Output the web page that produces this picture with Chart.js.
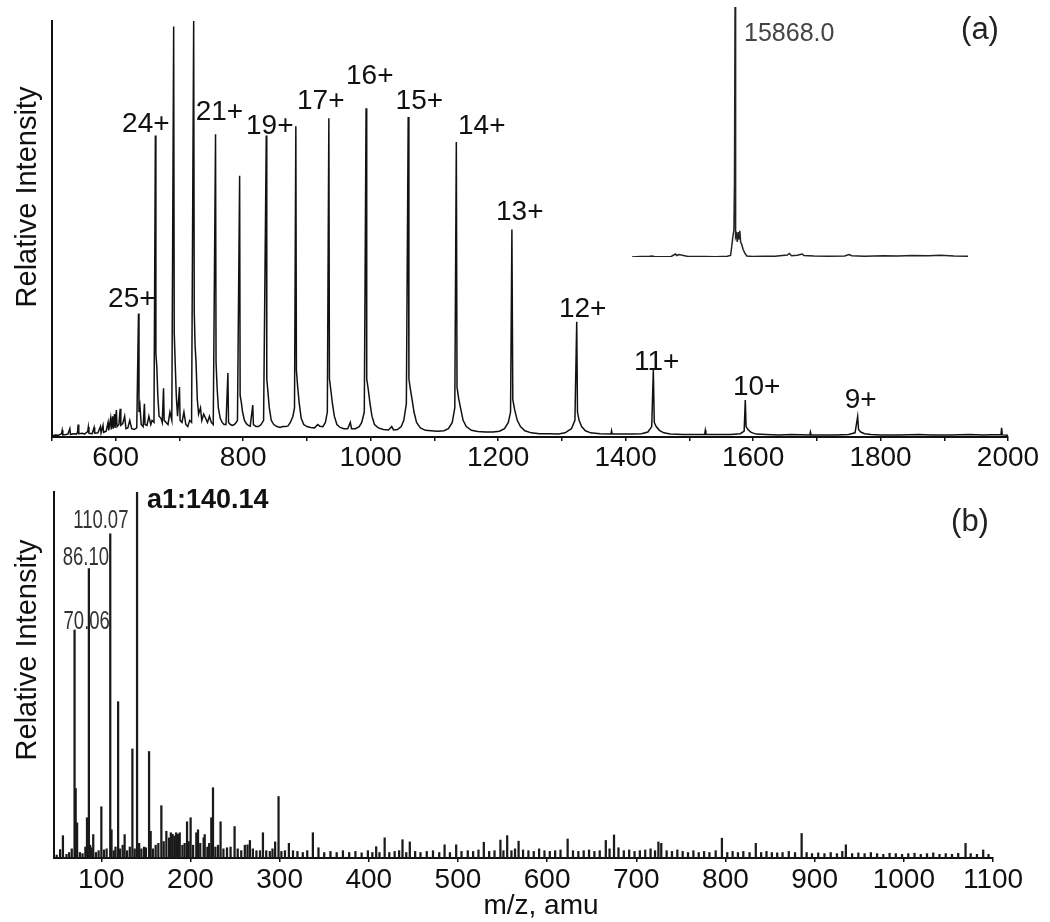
<!DOCTYPE html>
<html>
<head>
<meta charset="utf-8">
<script src="https://cdn.jsdelivr.net/npm/chart.js@4.4.1/dist/chart.umd.min.js"></script>
<style>
  body { margin: 0; background: #fff; }
  #wrap { position: relative; width: 1050px; height: 922px; }
  canvas { position: absolute; }
</style>
</head>
<body>
<div id="wrap">
  <canvas id="msChart" width="1050" height="480" style="left:0;top:0;width:1050px;height:480px"></canvas>
  <canvas id="msmsChart" width="1050" height="452" style="left:0;top:470px;width:1050px;height:452px"></canvas>
  <canvas id="insetChart" width="400" height="280" style="left:600px;top:0;width:400px;height:280px"></canvas>
</div>
<script>
// (a) ESI charge-state envelope, m/z vs relative intensity (profile trace)
const mzA = [
  500, 505, 510, 515, 516, 517, 522, 525, 528, 529,
  533, 538, 540, 541, 542, 548, 551, 556, 557, 558,
  563, 566, 567, 572, 576, 577, 580, 581, 585, 588,
  589, 592, 593, 595, 596, 598, 599, 601, 602, 605,
  607, 608, 611, 614, 616, 619, 622, 625, 629, 633,
  635.7, 636.5, 638, 640, 643, 645, 646, 649, 652, 655,
  657, 660, 662.2, 663, 664.5, 666, 668, 671, 673, 675,
  676, 679, 682, 685, 688, 690.9, 691.8, 693.5, 695, 697,
  700, 701, 704, 707, 710, 713, 716, 719, 722.3, 723.2,
  724.5, 726, 728, 730, 733, 735, 738, 741, 744, 747,
  750, 753, 756.6, 757.4, 759, 761, 764, 767, 770, 773,
  776, 777, 780, 783, 786, 789, 791, 794.4, 795.2, 797,
  799, 802, 805, 808, 811, 815, 816, 820, 824, 828,
  832, 836.2, 837, 839, 841, 844, 848, 853, 858, 862,
  866, 870, 874, 878, 880.5, 882.6, 883.5, 885.5, 888, 891,
  895, 900, 906, 912, 917, 920, 925, 929, 932, 934.4,
  935.3, 937.5, 940, 943, 947, 952, 958, 964, 968, 970,
  976, 982, 986, 990, 992.8, 993.8, 996, 999, 1002, 1006,
  1012, 1020, 1028, 1033, 1036, 1042, 1048, 1052, 1056, 1058.9,
  1060, 1062.5, 1065, 1068, 1072, 1078, 1086, 1095, 1105, 1115,
  1122, 1128, 1132, 1134.4, 1135.5, 1138, 1141, 1145, 1150, 1158,
  1168, 1180, 1192, 1202, 1210, 1216, 1219.5, 1221.6, 1223, 1226,
  1230, 1235, 1242, 1252, 1265, 1280, 1295, 1305, 1315, 1320.5,
  1323.3, 1324.5, 1327, 1331, 1337, 1345, 1360, 1377, 1378, 1379,
  1395, 1410, 1425, 1435, 1441, 1443.5, 1445, 1448, 1453, 1460,
  1470, 1490, 1510, 1524, 1525, 1526, 1545, 1565, 1580, 1586,
  1587.8, 1589, 1592, 1597, 1605, 1620, 1640, 1660, 1689, 1690,
  1691, 1710, 1730, 1750, 1760, 1764.1, 1765.5, 1769, 1775, 1785,
  1800, 1830, 1860, 1880, 1910, 1940, 1960, 1989, 1990, 1991,
  2000
];
const intA = [
  0.3, 0.5, 0.4, 0.8, 1.6, 0.5, 0.6, 0.7, 2.0, 0.6,
  0.8, 0.7, 1.0, 3.0, 0.8, 0.9, 0.7, 1.3, 2.4, 0.9,
  0.8, 2.3, 0.9, 1.0, 2.5, 1.0, 2.8, 1.1, 1.4, 3.5,
  1.6, 4.5, 1.8, 5.0, 2.0, 5.5, 2.2, 6.5, 2.5, 3.0,
  6.8, 2.8, 3.2, 5.0, 2.0, 2.2, 4.0, 2.0, 1.8, 2.2,
  29.7, 6.0, 7.5, 3.0, 2.5, 8.0, 3.0, 2.8, 5.0, 3.0,
  4.0, 3.5, 72.5, 20, 16.8, 10, 5, 4.5, 3.5, 11.7,
  4.0, 3.5, 3.0, 6.0, 4.0, 98.7, 25, 16.8, 10, 5,
  12, 4, 3.5, 6.0, 3.0, 2.5, 4.0, 3.5, 100, 30,
  22, 18, 9, 5.5, 7, 4, 5.5, 4.5, 3.5, 5,
  3.5, 3.0, 72.8, 18, 12, 7, 4.5, 3.5, 3.0, 3.0,
  15.4, 3.5, 3.0, 2.8, 3.0, 3.5, 4, 62.8, 10, 8.4,
  6, 4, 3.2, 2.8, 2.6, 7.7, 3, 2.5, 2.5, 3,
  4, 72.5, 14, 10.5, 7, 4, 3, 2.5, 2.3, 2.5,
  2.5, 2.6, 3.5, 5, 7, 74.7, 16, 12, 8, 4.5,
  3, 2.5, 2.3, 2.2, 3.0, 2.6, 2.5, 3.5, 6, 76.6,
  14, 11.3, 8, 5, 3, 2.3, 2.0, 2.0, 3.5, 2.0,
  2.0, 2.5, 3.5, 6, 79.0, 14, 11.7, 8, 5, 3,
  2.2, 1.8, 1.7, 2.5, 1.7, 1.8, 2.5, 4, 8, 76.9,
  14, 11.3, 9, 6, 3.5, 2.2, 1.6, 1.5, 1.4, 1.5,
  2.0, 3.5, 7, 70.9, 12, 9.3, 7, 4, 2.5, 1.6,
  1.3, 1.2, 1.2, 1.4, 2, 3.5, 6, 49.9, 9, 6.5,
  4, 2.5, 1.5, 1.0, 0.8, 0.8, 0.7, 1.0, 2, 4,
  27.7, 6, 4, 2.5, 1.5, 1.0, 0.8, 0.7, 1.5, 0.7,
  0.7, 0.7, 0.8, 1.2, 2.5, 16.1, 3.5, 2.5, 1.6, 1.0,
  0.7, 0.6, 0.6, 0.6, 1.6, 0.6, 0.6, 0.6, 0.8, 1.4,
  8.9, 2.5, 1.8, 1.1, 0.7, 0.6, 0.5, 0.6, 0.5, 1.2,
  0.5, 0.5, 0.5, 0.6, 1.0, 4.9, 1.8, 1.2, 0.8, 0.6,
  0.5, 0.5, 0.6, 0.5, 0.5, 0.6, 0.5, 0.6, 2.2, 0.5,
  0.4
];

// charge state labels, anchored in data units of panel (a)
const chargeText = ["25+", "24+", "21+", "19+", "17+", "16+", "15+", "14+", "13+", "12+", "11+", "10+", "9+"];
const chargeLabelMz = [625.3, 647.2, 762.7, 841.7, 921.7, 998.6, 1076.4, 1174.3, 1233.9, 1332.7, 1448.8, 1605.6, 1768.8];
const chargeLabelInt = [33.1, 75.2, 78.1, 74.7, 80.7, 86.7, 80.7, 74.7, 54.0, 30.7, 18.0, 12.0, 8.9];

const ticksA = [500, 600, 700, 800, 900, 1000, 1100, 1200, 1300, 1400, 1500, 1600, 1700, 1800, 1900, 2000];
const labelsA = [600, 800, 1000, 1200, 1400, 1600, 1800, 2000];

// inset: deconvoluted mass spectrum
const insetMass = [
  15500, 15530, 15560, 15570, 15580, 15600, 15640, 15655, 15660, 15668,
  15700, 15760, 15800, 15840, 15852, 15856, 15860, 15864, 15866, 15868,
  15870, 15873, 15876, 15879, 15882, 15885, 15888, 15892, 15897, 15903,
  15910, 15930, 15970, 16010, 16055, 16062, 16070, 16090, 16108, 16114,
  16150, 16200, 16260, 16275, 16285, 16330, 16400, 16450, 16500, 16560,
  16600, 16650, 16700
];
const insetInt = [
  0, 0.2, 0.2, 0.4, 0.2, 0.1, 0.2, 1.2, 0.6, 1.0,
  0.2, 0.2, 0.1, 0.3, 0.6, 4, 8, 10.8, 30, 100,
  8, 9, 6, 10, 7, 10.5, 6, 5, 3, 1.5,
  0.4, 0.2, 0.3, 0.3, 0.8, 1.4, 0.5, 0.7, 1.2, 0.6,
  0.4, 0.3, 0.4, 1.0, 0.5, 0.3, 0.5, 0.4, 0.6, 0.5,
  0.7, 0.4, 0.3
];
const insetPeakMass = 15868;
const insetPeakText = "15868.0";

// (b) MS/MS fragment spectrum (stick)
const mzB = [
  50, 53.9, 57.0, 61, 64, 66.9, 70.06, 71.3, 72.9, 76,
  79, 82.2, 84.0, 86.10, 87.5, 89, 91, 94, 97, 100.1,
  103, 106, 110.07, 111.5, 114, 116, 118.9, 121, 124, 126.2,
  129, 132, 134.9, 137.5, 140.14, 142.5, 145, 148, 150, 153.6,
  155.4, 158, 161, 164, 167.4, 170, 173, 176, 178, 180,
  182, 184, 186, 188, 191, 193.5, 196.2, 198, 200.2, 203,
  206.6, 208.5, 211, 214.8, 216, 219, 221, 223.4, 225.3, 228,
  231, 233.8, 237, 241, 245, 249.5, 253, 257, 261, 264,
  266.7, 270, 274, 278, 281.3, 285, 289, 292, 295, 298.8,
  302, 306, 310.4, 315, 320, 326, 331, 337.3, 343.6, 350,
  357, 364, 371, 378, 385, 392, 399, 404, 408.3, 412,
  417.8, 423, 429, 434, 437.8, 442, 446, 452, 458, 465,
  472, 479, 485, 491, 498, 504, 511, 517, 523, 529,
  535, 541, 547.6, 551, 555.2, 560, 564, 568, 573, 579,
  585, 591, 597, 603, 609, 615, 623, 629, 635, 641,
  647, 653, 659, 665.8, 670, 675, 680, 686, 692, 698,
  704, 710, 716, 721, 724.8, 728, 734, 740, 746, 752,
  758, 764, 770, 776, 782, 789, 796, 802, 808, 814,
  820, 827, 834, 840, 846, 852, 858, 864, 871, 878,
  885.4, 891, 897, 904, 911, 918, 925, 931, 935, 942,
  949, 956, 963, 970, 977, 984, 991, 998, 1005, 1012,
  1019, 1026, 1033, 1040, 1047, 1054, 1061, 1069.2, 1075, 1082,
  1089, 1095
];
const intB = [
  0.8, 2.3, 6.1, 1.0, 1.5, 2.5, 62.3, 19.0, 9.6, 1.5,
  1.2, 3.0, 11.0, 79.1, 3.5, 2.8, 6.4, 1.5, 2.0, 14.0,
  2.2, 2.5, 88.6, 7.7, 2.0, 3.0, 42.7, 2.5, 3.5, 6.4,
  2.0, 3.0, 29.8, 2.5, 100, 4.0, 2.5, 3.0, 2.8, 29.1,
  7.3, 2.5, 3.5, 4.0, 14.3, 4.5, 7.3, 5.5, 6.9, 6.5,
  6.0, 6.9, 6.5, 6.9, 3.5, 4.0, 9.9, 4.5, 11.0, 3.5,
  6.9, 7.7, 4.0, 5.5, 6.4, 3.0, 4.0, 11.0, 19.2, 3.0,
  3.5, 9.9, 2.5, 2.8, 3.0, 8.6, 2.5, 2.0, 3.5, 3.6,
  4.8, 2.5, 2.0, 2.0, 6.9, 2.0, 1.8, 2.5, 4.4, 16.8,
  1.8, 2.0, 4.0, 2.0, 1.8, 1.5, 2.0, 6.9, 2.8, 1.5,
  1.8, 1.5, 2.0, 1.5, 1.8, 1.4, 2.0, 1.5, 3.1, 1.5,
  5.5, 1.5, 1.8, 2.0, 5.0, 1.5, 4.4, 1.8, 1.5, 1.8,
  2.0, 1.5, 3.6, 1.5, 3.6, 1.8, 2.0, 1.8, 2.2, 4.3,
  1.8, 2.0, 4.9, 2.0, 6.1, 2.0, 2.5, 4.6, 2.2, 2.0,
  1.8, 2.5, 2.0, 1.8, 2.0, 2.2, 5.2, 2.0, 1.8, 2.0,
  2.2, 1.8, 2.0, 4.8, 2.5, 6.3, 2.8, 2.0, 2.2, 1.8,
  2.0, 2.2, 2.5, 2.0, 4.4, 4.0, 2.0, 1.8, 2.2, 1.8,
  1.5, 2.0, 1.5, 1.8, 1.5, 2.0, 5.4, 1.5, 1.8, 1.5,
  1.8, 1.5, 4.0, 1.5, 1.8, 1.5, 1.4, 1.5, 1.8, 1.5,
  6.7, 1.5, 1.2, 1.4, 1.2, 1.5, 1.2, 1.8, 3.6, 1.2,
  1.4, 1.2, 1.5, 1.2, 1.0, 1.3, 1.2, 1.0, 1.2, 1.3,
  1.0, 1.2, 1.4, 1.0, 1.2, 1.0, 1.3, 4.0, 1.2, 1.0,
  2.2, 1.0
];

// annotated fragment ions (b)
const fragText = ["110.07", "86.10", "70.06"];
const fragLabelMz = [99.5, 82.7, 83.7];
const fragLabelInt = [92.1, 82.0, 64.5];
const a1Text = "a1:140.14";
const a1LabelMz = 151.3;
const a1LabelInt = 97.8;

const ticksB = [100, 200, 300, 400, 500, 600, 700, 800, 900, 1000, 1100];

const FONT = "'Liberation Sans', Arial, Helvetica, sans-serif";
const INK = "#111";
Chart.defaults.font.family = FONT;
Chart.defaults.color = INK;

function drawText(ctx, text, x, y, font, align, color) {
  ctx.font = font;
  ctx.fillStyle = color || INK;
  ctx.textAlign = align || "center";
  ctx.textBaseline = "middle";
  ctx.fillText(text, x, y);
}

function drawYTitle(ctx, x, y) {
  ctx.save();
  ctx.translate(x, y);
  ctx.rotate(-Math.PI / 2);
  drawText(ctx, "Relative Intensity", 0, 0, "29px " + FONT);
  ctx.restore();
}

function xAxisOpts(min, max, tickList, labelFn, height, pad) {
  return {
    type: "linear",
    min, max,
    offset: false,
    afterBuildTicks: s => { s.ticks = tickList.map(v => ({ value: v })); },
    afterFit: s => { s.height = height; },
    ticks: {
      autoSkip: false, maxRotation: 0, padding: pad,
      font: { size: 28, lineHeight: 1 }, color: INK,
      callback: labelFn
    },
    grid: { display: true, offset: false, drawOnChartArea: false, drawTicks: true, tickLength: 4, color: INK, lineWidth: 1.5 },
    border: { display: true, color: INK, width: 2 }
  };
}

function yAxisOpts(width) {
  return {
    min: 0, max: 100,
    afterFit: s => { s.width = width; },
    ticks: { display: false },
    grid: { display: false },
    border: { display: true, color: INK, width: 2 }
  };
}

// ---- panel (a)
const labelsPluginA = {
  id: "labelsA",
  afterDraw(chart) {
    const { ctx, scales: { x, y } } = chart;
    ctx.save();
    chargeText.forEach((t, i) => {
      drawText(ctx, t, x.getPixelForValue(chargeLabelMz[i]), y.getPixelForValue(chargeLabelInt[i]), "28px " + FONT);
    });
    drawYTitle(ctx, 28, 197);
    drawText(ctx, "(a)", 980, 30, "31px " + FONT, "center", "#222");
    ctx.restore();
  }
};

new Chart(document.getElementById("msChart"), {
  type: "line",
  data: {
    datasets: [{
      data: mzA.map((m, i) => ({ x: m, y: intA[i] })),
      borderColor: INK, borderWidth: 1.5, pointRadius: 0, fill: false, tension: 0
    }]
  },
  options: {
    responsive: false, animation: false,
    layout: { padding: { left: 0, right: 42, top: 21, bottom: 0 } },
    plugins: { legend: { display: false }, tooltip: { enabled: false } },
    scales: {
      x: xAxisOpts(500, 2000, ticksA, v => labelsA.includes(v) ? String(v) : "", 43, 3),
      y: yAxisOpts(52)
    }
  },
  plugins: [labelsPluginA]
});

// ---- inset
const insetLabelPlugin = {
  id: "insetLabel",
  afterDraw(chart) {
    const { ctx, scales: { x } } = chart;
    drawText(ctx, insetPeakText, x.getPixelForValue(insetPeakMass) + 9, 34, "25px " + FONT, "left", "#444");
  }
};

new Chart(document.getElementById("insetChart"), {
  type: "line",
  data: {
    datasets: [{
      data: insetMass.map((m, i) => ({ x: m, y: insetInt[i] })),
      borderColor: "#222", borderWidth: 1.5, pointRadius: 0, fill: false, tension: 0
    }]
  },
  options: {
    responsive: false, animation: false,
    layout: { padding: { left: 32, right: 32, top: 7, bottom: 23 } },
    plugins: { legend: { display: false }, tooltip: { enabled: false } },
    scales: {
      x: { type: "linear", display: false, min: 15500, max: 16700 },
      y: { display: false, min: 0, max: 100 }
    }
  },
  plugins: [insetLabelPlugin]
});

// ---- panel (b)
const labelsPluginB = {
  id: "labelsB",
  afterDraw(chart) {
    const { ctx, scales: { x, y } } = chart;
    ctx.save();
    fragText.forEach((t, i) => {
      ctx.save();
      ctx.translate(x.getPixelForValue(fragLabelMz[i]), y.getPixelForValue(fragLabelInt[i]));
      ctx.scale(0.74, 1); // the original uses a narrow label face
      drawText(ctx, t, 0, 0, "25px " + FONT, "center", "#333");
      ctx.restore();
    });
    drawText(ctx, a1Text, x.getPixelForValue(a1LabelMz), y.getPixelForValue(a1LabelInt), "bold 27px " + FONT, "left");
    drawYTitle(ctx, 28, 180);
    drawText(ctx, "(b)", 970, 52, "31px " + FONT, "center", "#222");
    drawText(ctx, "m/z, amu", 541, 436, "28px " + FONT);
    ctx.restore();
  }
};

new Chart(document.getElementById("msmsChart"), {
  type: "bar",
  data: {
    datasets: [{
      data: mzB.map((m, i) => ({ x: m, y: intB[i] })),
      backgroundColor: "#1a1a1a", barThickness: 1.6
    }]
  },
  options: {
    responsive: false, animation: false,
    layout: { padding: { left: 0, right: 57, top: 22, bottom: 0 } },
    plugins: { legend: { display: false }, tooltip: { enabled: false } },
    scales: {
      x: xAxisOpts(47, 1100, ticksB, v => String(v), 64, 4),
      y: yAxisOpts(54)
    }
  },
  plugins: [labelsPluginB]
});
</script>
</body>
</html>
